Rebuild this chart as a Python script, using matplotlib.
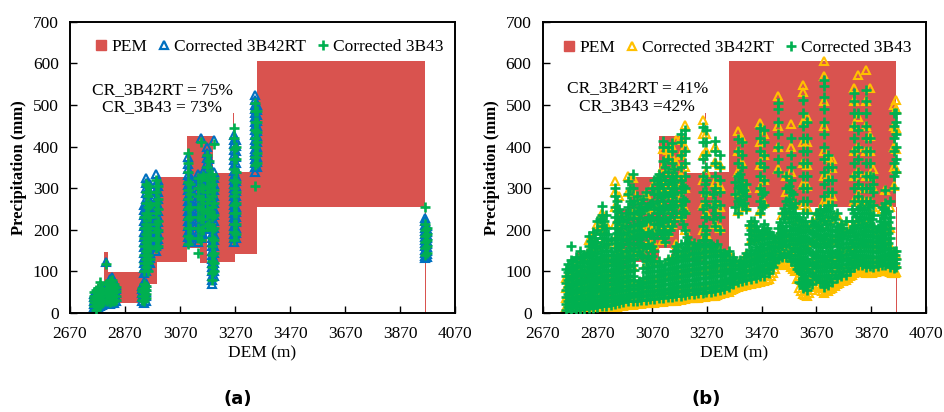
import matplotlib
matplotlib.use("Agg")
import matplotlib.pyplot as plt
from matplotlib.lines import Line2D

# ---------------- data ----------------
# PEM bands (DEM range, precipitation range), identical in both panels
pem_start = [2767, 2795, 2807, 2939, 2987, 3094, 3143, 3167, 3191, 3262, 3270, 3349, 3960]
pem_end   = [2777, 2807, 2939, 2987, 3094, 3143, 3167, 3191, 3270, 3265, 3349, 3962, 3963]
pem_low   = [10, 30, 25, 69, 123, 155, 120, 200, 123, 337, 142, 255, 0]
pem_high  = [69, 146, 98, 250, 327, 425, 425, 425, 337, 480, 340, 606, 255]

# Panel (a): DEM of each point column and the precipitation values in it
a_dem = [2758, 2765, 2772, 2780, 2788, 2800, 2806, 2814, 2822, 2830, 2838,
         2932, 2940, 2947, 2954, 2961, 2982, 2990, 3100, 3108, 3135, 3145,
         3152, 3168, 3175, 3186, 3193, 3266, 3274, 3343, 3350, 3962, 3968]
a_rt = [
    [15, 22, 30, 38, 45], [12, 20, 28, 36, 44, 52], [14, 22, 31, 40, 48],
    [18, 25, 33, 42, 50], [20, 30, 40, 50, 60], [45, 60, 123],
    [25, 35, 45, 55, 65], [22, 32, 42, 52, 62, 72, 82], [24, 34, 44, 54, 64, 74, 87],
    [25, 35, 45, 55, 65, 75], [28, 38, 48, 58, 68], [28, 38, 48, 58, 66],
    [25, 35, 45, 55, 65, 75, 95, 108, 120, 132, 145, 158, 170, 182, 195, 208, 220, 235, 248, 260],
    [30, 40, 50, 62, 72, 100, 112, 125, 138, 150, 162, 175, 188, 200, 212, 225, 238, 250, 262, 275, 288, 300, 312, 325],
    [110, 122, 135, 148, 160, 172, 185, 198, 210, 222, 235, 248, 260, 272, 285, 298, 315],
    [120, 132, 145, 158, 170, 182, 195, 208, 220, 232, 245, 258, 270, 290, 310],
    [150, 162, 175, 188, 200, 212, 225, 238, 250, 262, 275, 290, 310, 335],
    [165, 178, 190, 205, 218, 230, 245, 260, 275, 290, 305, 320],
    [170, 182, 195, 208, 220, 232, 245, 258, 270, 282, 295, 308, 320, 332, 345, 358, 376],
    [175, 188, 200, 212, 225, 238, 250, 262, 275, 288, 300, 315, 330],
    [170, 182, 195, 208, 220, 232, 245, 258, 270, 282, 295, 310, 322, 335],
    [180, 192, 205, 218, 230, 242, 255, 268, 280, 292, 305, 318, 330, 420],
    [190, 202, 215, 228, 240, 252, 265, 278, 290, 302, 315, 328, 340],
    [220, 232, 245, 258, 270, 285, 300, 315, 330, 345, 360, 372, 385, 400],
    [230, 242, 255, 268, 280, 295, 310, 325, 340, 355, 370],
    [70, 80, 90, 100, 110, 120, 130, 140, 150, 160, 170, 180, 190, 202, 215, 228, 240, 252, 265, 278, 290, 305, 320],
    [90, 100, 110, 120, 130, 145, 160, 175, 190, 205, 220, 235, 250, 265, 280, 295, 310, 325, 340, 415],
    [170, 180, 190, 200, 210, 220, 230, 240, 250, 260, 270, 280, 290, 300, 310, 320, 330, 342, 355, 368, 380, 392, 405, 415, 427],
    [180, 192, 205, 218, 230, 242, 255, 268, 280, 292, 305, 318, 330, 345, 360, 375, 390, 402, 415],
    [340, 350, 360, 370, 380, 388, 395, 405, 415, 428, 440, 450, 460, 470, 480, 490, 500, 512, 524],
    [350, 362, 375, 388, 400, 412, 425, 438, 450, 462, 475, 488, 500],
    [131, 138, 145, 152, 160, 168, 175, 182, 190, 198, 205, 212, 220, 228],
    [135, 142, 150, 158, 165, 172, 180, 188, 195, 202, 210],
]
a_b43 = [
    [18, 26, 34, 42, 50], [8, 16, 25, 33, 41, 55], [17, 25, 35, 44, 60],
    [20, 30, 38, 47, 75], [24, 34, 45, 55], [50, 70, 118],
    [30, 40, 50, 60, 70], [26, 36, 46, 56, 66, 76], [28, 38, 48, 58, 68, 80],
    [30, 40, 50, 60, 70], [32, 42, 52, 62], [32, 42, 52, 60],
    [30, 40, 50, 60, 70, 100, 120, 140, 160, 180, 205, 230],
    [35, 45, 55, 65, 110, 130, 150, 170, 190, 215, 240, 265, 290, 310],
    [100, 120, 140, 160, 180, 205, 230, 255, 280, 305],
    [130, 155, 180, 205, 230, 260, 290],
    [155, 175, 195, 215, 240, 265, 290, 320],
    [160, 180, 200, 220, 250, 275, 305],
    [165, 185, 205, 225, 250, 275, 295, 315, 340, 360, 385],
    [180, 205, 230, 255, 285, 310],
    [145, 180, 205, 230, 255, 280, 300, 325],
    [175, 200, 225, 250, 275, 300, 325, 410],
    [200, 225, 250, 275, 300, 330],
    [210, 240, 265, 290, 320, 350, 380],
    [215, 245, 275, 305, 335, 365],
    [80, 95, 110, 125, 140, 160, 180, 200, 230, 255, 280, 310, 335],
    [100, 120, 145, 175, 205, 235, 265, 295, 325, 405],
    [175, 195, 215, 240, 260, 280, 300, 320, 345, 370, 395, 420, 445],
    [190, 215, 240, 265, 290, 315, 340, 370, 400],
    [305, 355, 375, 400, 420, 440, 460, 485, 505],
    [360, 385, 410, 435, 460, 485],
    [140, 155, 170, 185, 200, 215, 254],
    [145, 160, 175, 190, 205],
]

# Panel (b): main point columns (low cloud + tall spikes)
b_dem = [2755, 2772, 2790, 2805, 2822, 2838, 2855, 2870, 2888, 2903, 2918, 2935,
         2950, 2965, 2982, 2998, 3013, 3030, 3046, 3062, 3078, 3094, 3110, 3126,
         3142, 3158, 3175, 3190, 3206, 3222, 3238, 3254, 3268, 3284, 3300, 3316,
         3332, 3350, 3364, 3382, 3398, 3414, 3432, 3448, 3464, 3480, 3496, 3512,
         3528, 3544, 3560, 3576, 3592, 3606, 3622, 3636, 3652, 3668, 3682, 3698,
         3712, 3728, 3744, 3760, 3776, 3792, 3806, 3820, 3836, 3850, 3864, 3878,
         3894, 3908, 3922, 3938, 3952, 3962]
b_rt = [
    [2, 15, 35, 60, 85], [2, 14, 35, 60, 90, 120], [3, 18, 40, 65, 95, 125],
    [4, 18, 42, 70, 100, 130], [4, 20, 45, 75, 105, 130],
    [5, 20, 48, 78, 110, 150, 175], [6, 22, 50, 80, 115, 150, 185],
    [6, 24, 52, 85, 120, 160, 200, 215], [8, 26, 55, 88, 125, 165, 205, 240],
    [10, 28, 58, 90, 128, 170, 215], [12, 30, 60, 95, 130, 165],
    [14, 32, 62, 98, 135, 175, 215, 255, 290, 316],
    [16, 34, 65, 100, 140, 180, 225, 280], [18, 36, 68, 104, 145, 190, 215],
    [20, 38, 70, 108, 150, 195, 240, 290, 330],
    [20, 40, 72, 110, 150, 195, 240, 290, 325],
    [22, 40, 62, 145, 200, 245, 275], [22, 42, 65, 150, 205, 250],
    [24, 44, 78, 118, 160, 205, 250, 285], [24, 44, 80, 120, 165, 210, 255],
    [25, 46, 82, 122, 165, 210, 260, 310], [26, 46, 84, 120, 205, 250, 295, 328],
    [27, 48, 86, 175, 215, 260, 305, 350, 395],
    [28, 50, 88, 125, 195, 240, 285, 330, 375, 392],
    [28, 50, 90, 130, 215, 260, 300, 340, 375, 400],
    [30, 52, 92, 132, 165, 263, 312, 360, 416],
    [32, 54, 95, 135, 235, 280, 330, 380, 420],
    [34, 56, 96, 140, 200, 250, 300, 350, 400, 452],
    [35, 58, 98, 140, 165], [36, 60, 100, 140, 165], [37, 60, 100, 140, 160],
    [38, 62, 100, 145, 200, 260, 320, 380, 430, 463],
    [40, 62, 102, 145, 190, 240, 290, 340, 390, 430],
    [40, 64, 104, 145, 160],
    [42, 66, 106, 148, 215, 265, 315, 364, 400],
    [45, 68, 108, 150, 205, 255, 305, 356],
    [48, 70, 110, 140], [50, 74, 110, 145], [58, 82, 115, 132],
    [62, 85, 112, 245, 290, 340, 390, 437],
    [65, 88, 115, 265, 310, 360, 418],
    [68, 90, 120, 140, 255, 300], [70, 94, 130, 175, 215], [72, 98, 135, 180, 200],
    [75, 100, 140, 185, 245, 300, 355, 410, 457],
    [78, 104, 145, 190, 265, 320, 380, 430],
    [82, 108, 150, 190], [95, 125, 165],
    [115, 145, 185, 345, 400, 450, 521], [120, 150, 190, 235],
    [122, 150, 190, 235, 290, 330],
    [110, 140, 180, 225, 280, 340, 400, 453],
    [100, 130, 170, 215, 260], [60, 90, 130, 175, 220],
    [45, 75, 115, 160, 210, 260, 310, 360, 410, 460, 530, 549],
    [42, 70, 110, 155, 205, 255, 305, 355, 410, 470],
    [55, 85, 125, 170, 215], [70, 100, 140, 185, 235],
    [60, 90, 130, 175, 220, 248],
    [48, 78, 118, 165, 215, 270, 330, 390, 450, 510, 570, 605],
    [52, 82, 122, 170, 220, 275, 330, 375],
    [60, 90, 130, 175, 225, 280, 348, 369],
    [70, 100, 140, 185, 235], [76, 105, 145, 190, 212], [80, 108, 148, 195, 215],
    [88, 115, 155, 195],
    [96, 125, 165, 215, 270, 330, 390, 450, 510, 540],
    [100, 130, 170, 220, 280, 340, 400, 470, 573],
    [100, 130, 170, 215, 265, 300],
    [96, 125, 165, 215, 270, 330, 390, 450, 510, 585],
    [98, 128, 168, 215, 270, 330, 390, 425, 540],
    [98, 125, 165, 210, 255, 300, 345],
    [100, 125, 160, 200], [102, 128, 165, 205, 250],
    [102, 130, 170, 215, 260, 296], [98, 122, 160, 205, 255],
    [96, 120, 145, 305, 350, 400, 450, 500],
    [98, 118, 140, 345, 395, 445, 490, 513],
]
b_b43 = [
    [8, 22, 38, 55, 72, 90, 105], [6, 20, 35, 52, 70, 88, 110, 128, 162],
    [8, 24, 40, 58, 76, 95, 115, 135], [10, 25, 42, 60, 80, 100, 122, 150],
    [10, 26, 44, 62, 82, 104, 126, 140],
    [12, 28, 46, 66, 88, 110, 135, 160, 185],
    [12, 30, 50, 70, 92, 115, 140, 165, 195],
    [14, 32, 52, 74, 96, 120, 145, 170, 200, 220],
    [16, 34, 55, 76, 100, 125, 150, 180, 210, 235, 257],
    [18, 36, 58, 80, 104, 128, 152, 178, 205, 235],
    [20, 38, 58, 80, 102, 125, 150, 175],
    [22, 40, 60, 82, 105, 130, 155, 180, 205, 230, 255, 280, 300],
    [24, 42, 62, 85, 110, 135, 160, 190, 220, 250],
    [26, 44, 64, 86, 110, 135, 165, 190, 220],
    [28, 46, 66, 88, 112, 138, 165, 195, 225, 255, 285, 318],
    [30, 48, 68, 90, 115, 140, 168, 198, 228, 262, 300, 335],
    [30, 48, 68, 140, 165, 190, 215, 245, 280],
    [32, 50, 70, 140, 165, 190, 212, 240, 265],
    [32, 52, 74, 98, 125, 155, 185, 220, 255, 290],
    [33, 52, 75, 100, 128, 158, 190, 225, 262],
    [34, 54, 76, 100, 125, 150, 180, 215, 250, 285, 320],
    [35, 55, 78, 102, 125, 200, 225, 255, 285, 310, 335],
    [36, 56, 80, 104, 180, 210, 240, 270, 300, 330, 365, 400, 413],
    [38, 58, 82, 106, 130, 190, 220, 250, 280, 310, 340, 370, 400],
    [38, 60, 84, 108, 132, 210, 240, 270, 300, 330, 360, 390, 409],
    [40, 62, 86, 110, 135, 160, 240, 270, 300, 330],
    [42, 64, 88, 112, 138, 165, 230, 260, 290, 320, 350, 380, 410, 430],
    [44, 66, 90, 115, 140, 168, 200, 240, 270, 300, 330, 360, 390, 420, 440],
    [45, 68, 92, 116, 142, 170], [46, 70, 94, 118, 144, 168],
    [47, 70, 95, 120, 145, 165],
    [48, 72, 96, 120, 146, 175, 210, 250, 290, 330, 370, 410, 448],
    [50, 72, 96, 122, 148, 175, 200, 230, 260, 290, 320, 350, 380, 410, 440],
    [50, 74, 98, 122, 148, 165],
    [52, 75, 100, 125, 150, 210, 240, 270, 300, 330, 360, 390, 414],
    [55, 78, 102, 128, 152, 200, 230, 260, 290, 320, 350, 380],
    [58, 80, 104, 128, 145], [62, 84, 106, 128, 150], [70, 92, 115, 135],
    [75, 95, 115, 240, 270, 300, 330, 360, 390, 418],
    [78, 98, 118, 260, 290, 320, 350, 380, 410],
    [80, 100, 122, 145, 250, 280, 310],
    [82, 104, 128, 152, 178, 200, 222], [85, 108, 132, 158, 185, 210],
    [88, 112, 136, 162, 188, 240, 270, 300, 330, 360, 390, 420, 445],
    [90, 115, 140, 165, 190, 215, 260, 290, 320, 350, 380, 410, 440],
    [95, 120, 145, 170, 195], [110, 135, 160, 185],
    [130, 155, 180, 205, 340, 370, 400, 430, 460, 490, 504],
    [135, 160, 185, 210, 240],
    [135, 160, 185, 210, 240, 270, 300, 330],
    [125, 150, 175, 200, 230, 260, 290, 320, 350, 380, 420],
    [115, 140, 165, 190, 215, 240, 265],
    [75, 100, 125, 150, 175, 200, 225],
    [60, 85, 110, 135, 160, 185, 210, 240, 270, 300, 330, 360, 390, 420, 450, 480, 512],
    [55, 80, 105, 130, 155, 180, 210, 240, 270, 300, 330, 360, 390, 420, 460],
    [70, 95, 120, 145, 170, 195, 220], [85, 110, 135, 160, 185, 210, 240],
    [75, 100, 125, 150, 175, 200, 225, 250],
    [62, 88, 112, 138, 165, 190, 220, 250, 280, 310, 340, 370, 400, 430, 460, 490, 520, 545, 560],
    [68, 92, 118, 145, 170, 200, 230, 260, 290, 320, 350, 380],
    [75, 100, 125, 150, 175, 200, 230, 260, 290, 320, 350],
    [85, 110, 135, 160, 185, 210, 240], [90, 115, 140, 165, 190, 215],
    [92, 118, 142, 168, 195, 220], [100, 125, 150, 175, 200],
    [110, 135, 160, 185, 210, 240, 270, 300, 330, 360, 390, 420, 450, 480, 510, 528],
    [115, 140, 165, 190, 220, 250, 280, 310, 340, 370, 400, 440, 480],
    [115, 140, 165, 190, 215, 240, 270, 300],
    [110, 135, 160, 185, 210, 240, 270, 300, 330, 360, 390, 420, 450, 480, 510, 536],
    [112, 138, 162, 188, 215, 240, 270, 300, 330, 360, 390, 420],
    [110, 135, 160, 185, 210, 235, 260, 290, 310, 328],
    [112, 135, 158, 180, 205], [115, 138, 160, 185, 210, 235, 255],
    [115, 140, 165, 190, 215, 240, 265, 296],
    [110, 132, 155, 180, 205, 230, 270],
    [108, 130, 150, 300, 330, 360, 390, 420, 450, 480],
    [110, 130, 148, 340, 370, 400, 430, 460, 480],
]

# Panel (b): interleaved columns of the dense low cloud
b_fill_dem = [2763, 2781, 2797, 2813, 2830, 2846, 2862, 2879, 2895, 2910, 2926,
              2942, 2957, 2973, 2990, 3005, 3021, 3038, 3054, 3070, 3086, 3102,
              3118, 3134, 3150, 3166, 3182, 3198, 3214, 3230, 3246, 3261, 3276,
              3292, 3308, 3324, 3341, 3357, 3373, 3390, 3406, 3423, 3440, 3456,
              3472, 3488, 3504, 3520, 3536, 3552, 3568, 3584, 3599, 3614, 3629,
              3644, 3660, 3675, 3690, 3705, 3720, 3736, 3752, 3768, 3784, 3799,
              3813, 3828, 3843, 3857, 3871, 3886, 3901, 3915, 3930, 3945, 3957]
b_fill_rt = [
    [3, 18, 40], [3, 20, 45], [4, 22, 48], [5, 24, 50], [5, 25, 52], [6, 26, 55],
    [7, 28, 58], [8, 30, 60], [10, 32, 62], [12, 34, 64], [14, 36, 66],
    [15, 38, 68], [17, 40, 70], [19, 42, 72], [21, 44, 74], [22, 45, 75],
    [23, 46, 72], [24, 48, 78], [25, 48, 80], [26, 50, 82], [27, 52, 84],
    [28, 52, 86], [29, 54, 88], [30, 55, 90], [31, 56, 92], [33, 58, 94],
    [34, 60, 96], [35, 62, 98], [36, 62, 100], [37, 64, 102], [38, 65, 104],
    [39, 66, 106], [40, 68, 108], [41, 70, 110], [44, 72, 112], [47, 75, 114],
    [50, 78, 116], [55, 82, 118], [60, 88, 120], [64, 92, 122], [67, 95, 126],
    [69, 98, 130], [71, 100, 135], [74, 104, 140], [77, 106, 145], [80, 110, 150],
    [88, 118, 155], [105, 135, 165], [116, 145, 180], [120, 150, 190],
    [116, 145, 185], [105, 135, 175], [82, 112, 150], [52, 80, 115],
    [44, 72, 110], [48, 78, 115], [62, 92, 130], [66, 95, 132], [52, 82, 120],
    [52, 82, 122], [58, 88, 128], [66, 95, 135], [72, 102, 140], [78, 106, 145],
    [84, 112, 150], [92, 120, 160], [98, 126, 165], [100, 128, 168],
    [98, 126, 165], [96, 125, 165], [97, 126, 166], [99, 127, 167],
    [100, 128, 168], [101, 130, 170], [100, 128, 166], [97, 122, 150],
    [96, 120, 145],
]
b_fill_b43 = [
    [15, 30, 46, 63, 80, 98, 118], [14, 30, 48, 66, 85, 104, 125],
    [16, 33, 50, 70, 90, 110, 132], [18, 35, 52, 71, 92, 114, 135],
    [19, 36, 56, 76, 98, 120, 145], [20, 38, 58, 80, 102, 125, 150, 172],
    [22, 40, 60, 82, 105, 130, 155, 180],
    [24, 42, 64, 86, 110, 135, 160, 190, 225],
    [26, 45, 66, 90, 114, 140, 165, 192, 220],
    [28, 48, 70, 92, 116, 140, 165, 190], [30, 50, 70, 92, 115, 140],
    [32, 52, 72, 95, 118, 142, 168, 192, 218, 245, 270],
    [34, 53, 75, 98, 122, 148, 175, 205, 232],
    [36, 56, 77, 100, 125, 150, 178, 208, 240],
    [38, 58, 80, 102, 128, 152, 180, 210, 240, 270, 300],
    [40, 58, 80, 104, 130, 155, 184, 212, 240, 268],
    [40, 60, 78, 150, 178, 200, 228, 255],
    [42, 62, 84, 108, 135, 160, 188, 218, 248, 275],
    [43, 63, 86, 110, 138, 165, 195, 230, 258],
    [44, 64, 88, 112, 138, 162, 192, 230, 265, 300],
    [45, 66, 90, 114, 190, 215, 240, 270, 300, 325],
    [46, 68, 92, 114, 190, 220, 250, 280, 310],
    [47, 70, 94, 118, 170, 195, 225, 255, 285, 320, 350],
    [48, 70, 95, 120, 200, 230, 260, 290, 320],
    [50, 72, 96, 122, 148, 220, 255, 285, 315, 345],
    [52, 75, 100, 125, 150], [54, 77, 102, 127, 152, 215, 245, 275, 305],
    [55, 80, 104, 130, 156, 182], [56, 80, 105, 130, 155],
    [58, 82, 106, 132, 155], [58, 84, 108, 134, 160],
    [60, 84, 110, 135, 160, 190, 230, 270, 310], [60, 86, 110, 136, 160],
    [62, 88, 112, 138, 160, 225, 255, 285], [65, 90, 115, 140, 165],
    [68, 92, 116, 138], [72, 95, 118, 140], [76, 98, 120],
    [84, 106, 124, 255, 285, 315], [86, 108, 128, 275, 305, 335],
    [90, 112, 134, 265, 295], [92, 115, 140, 165, 190, 212],
    [96, 120, 145, 172, 198, 220], [100, 124, 150, 175, 198],
    [102, 126, 152, 178, 200, 255, 285], [105, 130, 155, 180, 205],
    [112, 138, 162, 188], [122, 148, 172], [142, 168, 192, 218],
    [145, 172, 198, 225, 252], [140, 165, 190, 218, 245, 275, 305],
    [130, 155, 180, 205, 230, 255, 285], [105, 130, 155, 180, 205, 230],
    [72, 95, 120, 145, 170, 195, 220], [68, 92, 118, 144, 170, 195, 222],
    [72, 98, 122, 148, 175, 200], [90, 115, 140, 165, 190, 215],
    [88, 112, 138, 162, 188, 212, 238], [74, 100, 125, 150, 178, 205, 235],
    [78, 104, 130, 158, 185, 215, 245], [84, 110, 138, 162, 188, 215, 245],
    [92, 118, 145, 172, 198, 225], [98, 125, 150, 175, 200],
    [102, 128, 155, 180, 205], [108, 132, 158, 185],
    [118, 142, 168, 195, 222, 250], [125, 150, 178, 205, 232],
    [128, 152, 178, 205, 230, 255], [122, 148, 172, 198, 225, 250],
    [122, 148, 175, 200, 228, 255], [122, 148, 172, 198, 225],
    [122, 146, 170, 195], [125, 150, 172, 198, 222],
    [128, 152, 178, 202, 228, 250], [120, 145, 168, 192, 218, 245],
    [118, 140], [120, 140],
]

a_cr_text = "CR_3B42RT = 75%\nCR_3B43 = 73%"
b_cr_text = "CR_3B42RT = 41%\nCR_3B43 =42%"

x_ticks = [2670, 2870, 3070, 3270, 3470, 3670, 3870, 4070]
y_ticks = [0, 100, 200, 300, 400, 500, 600, 700]

# ---------------- style ----------------
SERIF = "Liberation Serif"
RED = "#D9534F"
BLUE = "#0070C0"
YELLOW = "#FFC000"
GREEN = "#00B050"


def flatten(dems, cols):
    xs, ys = [], []
    for d, vals in zip(dems, cols):
        for v in vals:
            xs.append(d)
            ys.append(v)
    return xs, ys


def draw_panel(ax, col_sets, rt_color, cr_text, cr_pos, leg_pos):
    widths = [e - s for s, e in zip(pem_start, pem_end)]
    heights = [h - l for l, h in zip(pem_low, pem_high)]
    ax.bar(pem_start, heights, width=widths, bottom=pem_low, align="edge",
           color=RED, linewidth=0, zorder=1)
    for dems, rt_cols, _ in col_sets:
        xr, yr = flatten(dems, rt_cols)
        ax.plot(xr, yr, linestyle="none", marker="^", ms=6.2, mfc="none",
                mec=rt_color, mew=1.5, zorder=2)
    for dems, _, b43_cols in col_sets:
        xg, yg = flatten(dems, b43_cols)
        ax.plot(xg, yg, linestyle="none", marker="+", ms=6.5, mec=GREEN,
                mew=1.9, zorder=3)

    ax.set_xlim(2670, 4070)
    ax.set_ylim(0, 700)
    ax.set_xticks(x_ticks)
    ax.set_yticks(y_ticks)
    ax.tick_params(direction="in", length=5, width=1, labelsize=12.5)
    ax.tick_params(axis="x", pad=9)
    ax.tick_params(axis="y", pad=8)
    for lab in ax.get_xticklabels() + ax.get_yticklabels():
        lab.set_fontfamily(SERIF)
    for sp in ax.spines.values():
        sp.set_linewidth(1.4)
        sp.set_color("black")
    ax.set_xlabel("DEM (m)", fontfamily=SERIF, fontsize=12.5, labelpad=3)
    ax.set_ylabel("Precipitation (mm)", fontfamily=SERIF, fontsize=12,
                  fontweight="bold", labelpad=4)

    handles = [
        Line2D([], [], linestyle="none", marker="s", ms=7, mfc=RED, mec=RED),
        Line2D([], [], linestyle="none", marker="^", ms=6, mfc="none",
               mec=rt_color, mew=1.6),
        Line2D([], [], linestyle="none", marker="+", ms=6.5, mec=GREEN, mew=1.9),
    ]
    labels = ["PEM", "Corrected 3B42RT", "Corrected 3B43"]
    ax.legend(handles, labels, loc="center", bbox_to_anchor=leg_pos, ncol=3,
              frameon=False, handlelength=0.7, handletextpad=0.25,
              columnspacing=0.6, borderaxespad=0, borderpad=0,
              prop={"family": SERIF, "size": 12.5})
    ax.text(cr_pos[0], cr_pos[1], cr_text, transform=ax.transAxes,
            ha="center", va="center", multialignment="center",
            fontfamily=SERIF, fontsize=12.5, linespacing=1.1, zorder=4)


fig = plt.figure(figsize=(9.44, 4.12), dpi=100)
ax1 = fig.add_axes([70 / 944, 99 / 412, 385 / 944, 291.3 / 412])
ax2 = fig.add_axes([542.7 / 944, 99 / 412, 383.3 / 944, 291.3 / 412])

draw_panel(ax1, [(a_dem, a_rt, a_b43)], BLUE, a_cr_text,
           (0.239, 0.736), (0.518, 0.914))
draw_panel(ax2, [(b_dem, b_rt, b_b43), (b_fill_dem, b_fill_rt, b_fill_b43)],
           YELLOW, b_cr_text, (0.247, 0.741), (0.508, 0.909))

fig.text(237.5 / 944, 1 - 399 / 412, "(a)", ha="center", va="center",
         fontfamily="DejaVu Sans", fontweight="bold", fontsize=13)
fig.text(706 / 944, 1 - 399 / 412, "(b)", ha="center", va="center",
         fontfamily="DejaVu Sans", fontweight="bold", fontsize=13)

fig.savefig("out.png", dpi=100)
